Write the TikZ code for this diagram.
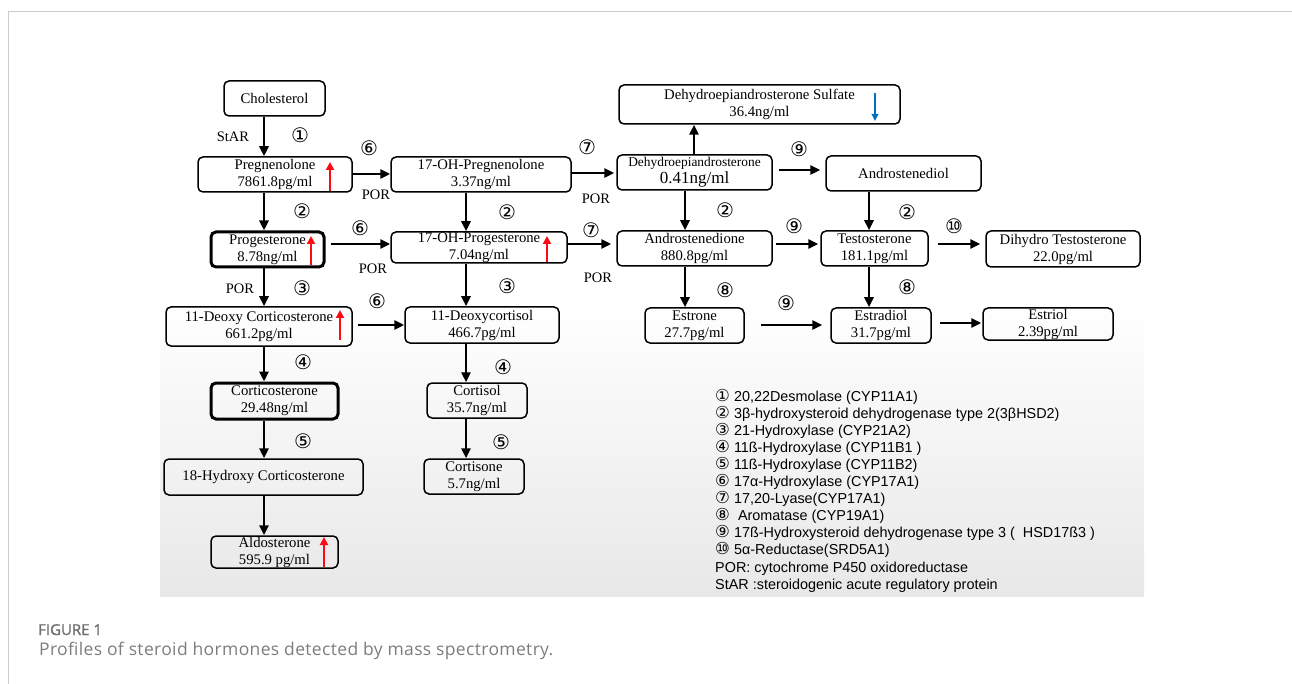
\documentclass[tikz,border=0pt]{standalone}
\usepackage{fontspec}
\setmainfont{Liberation Serif}
\newfontfamily\lsans{Liberation Sans}
\newfontfamily\djv{DejaVu Sans}
\newfontfamily\osans[LetterSpace=2]{Open Sans}
\newfontfamily\osanslab[FakeBold=1.2]{Open Sans}
\usetikzlibrary{arrows.meta}
\newcommand\cn[1]{{\djv\fontsize{20}{20}\selectfont #1}}
\newcommand\lc[1]{{\djv\fontsize{16.5}{16.5}\selectfont #1}}
\definecolor{upred}{RGB}{255,10,20}
\definecolor{dnblue}{RGB}{0,112,192}
\definecolor{framegray}{RGB}{204,204,204}
\definecolor{capgray}{RGB}{125,125,125}
\definecolor{labgray}{RGB}{110,110,110}
\definecolor{bggray}{RGB}{232,232,232}
\tikzset{
  box/.style={draw, rounded corners=5pt, line width=1.5pt, inner sep=0pt, align=center,
    font=\fontsize{14.7}{17}\selectfont},
  thickbox/.style={box, line width=3pt},
  arr/.style={-{Triangle[length=10pt,width=9pt]}, line width=2.6pt},
  uparr/.style={-{Triangle[length=8pt,width=8pt]}, line width=2.8pt, draw=upred},
  dnarr/.style={-{Triangle[length=7pt,width=6.5pt]}, line width=2pt, draw=dnblue},
  lab/.style={inner sep=0pt, font=\fontsize{14.5}{14.5}\selectfont},
  num/.style={inner sep=0pt},
  leg/.style={inner sep=0pt, anchor=base west, font=\lsans\fontsize{14.4}{17}\selectfont},
}
\begin{document}
\begin{tikzpicture}[x=1pt,y=-1pt]
\useasboundingbox (0,0) rectangle (1292,684);
% background and frame
\shade[top color=white, bottom color=bggray] (160,300) rectangle (1144,596);
\draw[framegray, line width=1pt] (1292,12) -- (8,12) -- (8,684);

% boxes
\node[box, minimum width=101pt, minimum height=35pt] (chol) at (274.5,98.5) {Cholesterol};
\node[box, minimum width=154pt, minimum height=35pt] (preg) at (275,174.5) {Pregnenolone\\7861.8pg/ml};
\node[box, minimum width=180pt, minimum height=35pt] (ohpreg) at (481,174.5) {17-OH-Pregnenolone\\3.37ng/ml};
\node[thickbox, minimum width=113pt, minimum height=35pt] (prog) at (267.5,249.5) {Progesterone\\8.78ng/ml};
\node[box, minimum width=176pt, minimum height=31pt] (ohprog) at (479,247.5) {17-OH-Progesterone\\7.04ng/ml};
\node[box, minimum width=186pt, minimum height=39pt] (doc) at (259,326.5) {11-Deoxy Corticosterone\\661.2pg/ml};
\node[box, minimum width=154pt, minimum height=36pt] (dcort) at (482,325) {11-Deoxycortisol\\466.7pg/ml};
\node[thickbox, minimum width=127pt, minimum height=36pt] (cortico) at (274.5,401) {Corticosterone\\29.48ng/ml};
\node[box, minimum width=100pt, minimum height=35pt] (cortisol) at (477,400.5) {Cortisol\\35.7ng/ml};
\node[box, minimum width=199pt, minimum height=36pt] (hcort) at (263.5,477) {18-Hydroxy Corticosterone};
\node[box, minimum width=100pt, minimum height=35pt] (cortisone) at (474,476.5) {Cortisone\\5.7ng/ml};
\node[box, minimum width=127pt, minimum height=32pt] (aldo) at (274.5,552) {Aldosterone\\595.9 pg/ml};
\node[box, minimum width=281pt, minimum height=39pt] (dheas) at (759.5,104.5) {Dehydroepiandrosterone Sulfate\\36.4ng/ml};
\node[box, minimum width=155pt, minimum height=35pt] (dhea) at (694.5,172.5)
  {{\fontsize{13.4}{15}\selectfont Dehydroepiandrosterone}\\{\fontsize{17}{18}\selectfont 0.41ng/ml}};
\node[box, minimum width=155pt, minimum height=35pt] (adiol) at (903.5,173.5) {Androstenediol};
\node[box, minimum width=155pt, minimum height=35pt] (adione) at (694.5,248.5) {Androstenedione\\880.8pg/ml};
\node[box, minimum width=107pt, minimum height=35pt] (testo) at (874.5,248.5) {Testosterone\\181.1pg/ml};
\node[box, minimum width=154pt, minimum height=36pt] (dht) at (1063,249) {Dihydro Testosterone\\22.0pg/ml};
\node[box, minimum width=99pt, minimum height=35pt] (estrone) at (694.5,325.5) {Estrone\\27.7pg/ml};
\node[box, minimum width=100pt, minimum height=35pt] (estradiol) at (881,325.5) {Estradiol\\31.7pg/ml};
\node[box, minimum width=130pt, minimum height=32pt] (estriol) at (1048,324) {Estriol\\2.39pg/ml};

% level indicators
\draw[uparr] (330,191) -- (330,162);
\draw[uparr] (311,265) -- (311,236);
\draw[uparr] (547,262) -- (547,236);
\draw[uparr] (340,340) -- (340,310);
\draw[uparr] (324,567) -- (324,537);
\draw[dnarr] (875,93) -- (875,121);

% lanes
\coordinate (vA) at (264,0);
\coordinate (vB) at (466,0);
\coordinate (vC) at (685,0);
\coordinate (vD) at (694,0);
\coordinate (vE) at (869,0);
\coordinate (h1) at (0,174);
\coordinate (h1b) at (0,173);
\coordinate (h1c) at (0,170);
\coordinate (h2) at (0,244);
\coordinate (h3) at (0,325);
\coordinate (h3b) at (0,323);

% vertical connectors
\draw[arr] (chol.south -| vA) -- (preg.north -| vA);
\draw[arr] (preg.south -| vA) -- (prog.north -| vA);
\draw[arr] (prog.south -| vA) -- (doc.north -| vA);
\draw[arr] (doc.south -| vA) -- (cortico.north -| vA);
\draw[arr] (cortico.south -| vA) -- (hcort.north -| vA);
\draw[arr] (hcort.south -| vA) -- (aldo.north -| vA);
\draw[arr] (ohpreg.south -| vB) -- (ohprog.north -| vB);
\draw[arr] (ohprog.south -| vB) -- (dcort.north -| vB);
\draw[arr] (dcort.south -| vB) -- (cortisol.north -| vB);
\draw[arr] (cortisol.south -| vB) -- (cortisone.north -| vB);
\draw[arr] (dhea.north -| vD) -- (dheas.south -| vD);
\draw[arr] (dhea.south -| vC) -- (adione.north -| vC);
\draw[arr] (adione.south -| vC) -- (estrone.north -| vC);
\draw[arr] (adiol.south -| vE) -- (testo.north -| vE);
\draw[arr] (testo.south -| vE) -- (estradiol.north -| vE);

% horizontal connectors
\draw[arr] (preg.east |- h1) -- (ohpreg.west |- h1);
\draw[arr, shorten <=5pt] (prog.east |- h2) -- (ohprog.west |- h2);
\draw[arr, shorten <=5pt] (doc.east |- h3) -- (dcort.west |- h3);
\draw[arr, shorten >=2pt] (ohpreg.east |- h1b) -- (dhea.west |- h1b);
\draw[arr, shorten >=5pt] (ohprog.east |- h2) -- (adione.west |- h2);
\draw[arr, shorten <=6pt, shorten >=5pt] (dhea.east |- h1c) -- (adiol.west |- h1c);
\draw[arr, shorten <=3pt, shorten >=2pt] (adione.east |- h2) -- (testo.west |- h2);
\draw[arr, shorten <=9pt, shorten >=5pt] (testo.east |- h2) -- (dht.west |- h2);
\draw[arr, shorten <=16pt, shorten >=8pt] (estrone.east |- h3) -- (estradiol.west |- h3);
\draw[arr, shorten <=8pt, shorten >=1pt] (estradiol.east |- h3b) -- (estriol.west |- h3b);

% enzyme labels
\node[lab] (t1) at (233,137) {StAR};
\node[lab] (t2) at (376,195) {POR};
\node[lab] (t3) at (596,199) {POR};
\node[lab] (t4) at (373,269) {POR};
\node[lab] (t5) at (598,278) {POR};
\node[lab] (t6) at (240,289) {POR};
\node[num] (n1) at (300,135) {\cn{①}};
\node[num] (n2) at (369,148) {\cn{⑥}};
\node[num] (n3) at (587,147) {\cn{⑦}};
\node[num] (n4) at (302,211) {\cn{②}};
\node[num] (n5) at (507,212) {\cn{②}};
\node[num] (n6) at (360,228) {\cn{⑥}};
\node[num] (n7) at (591,230) {\cn{⑦}};
\node[num] (n8) at (302,288) {\cn{③}};
\node[num] (n9) at (377,301) {\cn{⑥}};
\node[num] (n10) at (507,286) {\cn{③}};
\node[num] (n11) at (303,362) {\cn{④}};
\node[num] (n12) at (503,367) {\cn{④}};
\node[num] (n13) at (303,441) {\cn{⑤}};
\node[num] (n14) at (501,442) {\cn{⑤}};
\node[num] (n15) at (799,149) {\cn{⑨}};
\node[num] (n16) at (725,210) {\cn{②}};
\node[num] (n17) at (907,212) {\cn{②}};
\node[num] (n18) at (794,226) {\cn{⑨}};
\node[num] (n19) at (954,226) {\cn{⑩}};
\node[num] (n20) at (725,290) {\cn{⑧}};
\node[num] (n21) at (786,303) {\cn{⑨}};
\node[num] (n22) at (907,287) {\cn{⑧}};

% legend
\node[leg] (l1) at (715,401) {\lc{①} 20,22Desmolase (CYP11A1)};
\node[leg] (l2) at (715,418.1) {\lc{②} 3β-hydroxysteroid dehydrogenase type 2(3βHSD2)};
\node[leg] (l3) at (715,435.2) {\lc{③} 21-Hydroxylase (CYP21A2)};
\node[leg] (l4) at (715,452.3) {\lc{④} 11ß-Hydroxylase (CYP11B1 )};
\node[leg] (l5) at (715,469.4) {\lc{⑤} 11ß-Hydroxylase (CYP11B2)};
\node[leg] (l6) at (715,486.5) {\lc{⑥} 17α-Hydroxylase (CYP17A1)};
\node[leg] (l7) at (715,503.6) {\lc{⑦} 17,20-Lyase(CYP17A1)};
\node[leg] (l8) at (715,520.7) {\lc{⑧}\ \ Aromatase (CYP19A1)};
\node[leg] (l9) at (715,537.8) {\lc{⑨} 17ß-Hydroxysteroid dehydrogenase type 3 (\ \ HSD17ß3 )};
\node[leg] (l10) at (715,554.9) {\lc{⑩} 5α-Reductase(SRD5A1)};
\node[leg] (l11) at (715,572.0) {POR: cytochrome P450 oxidoreductase};
\node[leg] (l12) at (715,589.1) {StAR :steroidogenic acute regulatory protein};

% caption
\node[inner sep=0pt, anchor=base west, text=labgray, font=\osanslab\fontsize{15}{15}\selectfont] (figlab) at (38,635) {FIGURE 1};
\node[inner sep=0pt, anchor=base west, text=capgray, font=\osans\fontsize{17.5}{17.5}\selectfont] (figcap) at (39,655) {Profiles of steroid hormones detected by mass spectrometry.};
\end{tikzpicture}
\end{document}
